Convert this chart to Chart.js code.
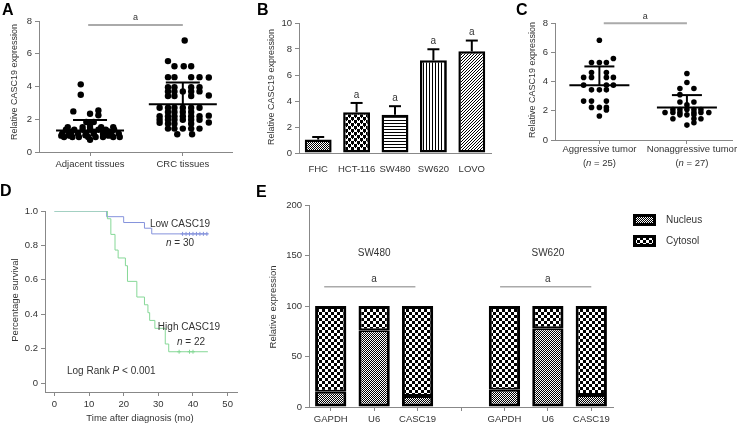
<!DOCTYPE html>
<html>
<head>
<meta charset="utf-8">
<script src="https://cdn.jsdelivr.net/npm/chart.js@4.4.0/dist/chart.umd.min.js"></script>
<style>
  body { margin: 0; background: #fff; }
  #fig { position: relative; width: 743px; height: 429px; overflow: hidden; }
  #fig canvas { position: absolute; }
  .lbl { position: absolute; font: bold 16px "Liberation Sans", Arial, sans-serif; color: #000; }
</style>
</head>
<body>
<div id="fig">
  <canvas id="cA" width="240" height="180" style="left:0;top:0"></canvas>
  <canvas id="cB" width="253" height="180" style="left:240px;top:0"></canvas>
  <canvas id="cC" width="253" height="180" style="left:490px;top:0"></canvas>
  <canvas id="cD" width="245" height="234" style="left:0;top:195px"></canvas>
  <canvas id="cE" width="493" height="234" style="left:250px;top:195px"></canvas>
  <div class="lbl" style="left:2px;top:1px">A</div>
  <div class="lbl" style="left:257px;top:1px">B</div>
  <div class="lbl" style="left:516px;top:1px">C</div>
  <div class="lbl" style="left:0px;top:182px">D</div>
  <div class="lbl" style="left:256px;top:183px">E</div>
</div>
<script>
// ---------- data ----------
// A: scatter, [x (group 1 or 2 with jitter), relative expression]
const groupsA = ['Adjacent tissues', 'CRC tissues'];
const adjacentPts = [
  [0.90,4.13],[0.90,3.50],[0.82,2.48],[1.00,2.34],[1.09,2.54],[1.09,2.24],[0.96,1.83],[1.04,1.83],[1.00,1.70],
  [0.76,1.52],[0.92,1.52],[1.00,1.52],[1.12,1.52],[1.25,1.52],
  [0.74,1.36],[0.83,1.36],[0.92,1.36],[1.00,1.36],[1.09,1.36],[1.17,1.36],[1.26,1.36],
  [0.80,1.24],[1.04,1.24],[1.20,1.25],
  [0.70,1.12],[0.77,1.12],[0.87,1.12],[0.96,1.12],[1.04,1.12],[1.14,1.12],[1.23,1.12],[1.31,1.12],
  [0.69,1.00],[0.78,1.00],[0.95,1.02],[1.20,1.00],
  [0.72,0.92],[0.81,0.92],[0.88,0.92],[0.98,0.92],[1.06,0.92],[1.14,0.92],[1.25,0.92],[1.32,0.92],
  [1.00,0.75]
];
const crcPts = [
  [2.02,6.81],[1.84,5.55],[1.91,5.24],[2.01,5.24],[2.09,5.24],
  [1.84,4.57],[1.91,4.57],[2.09,4.57],[2.18,4.57],[2.28,4.55],
  [1.84,3.96],[1.91,3.96],[2.09,3.96],[2.18,3.96],
  [1.84,3.70],[1.91,3.70],[2.00,3.70],[2.09,3.70],[2.18,3.70],
  [1.84,3.42],[1.91,3.42],[2.09,3.42],[2.28,3.45],
  [1.75,2.70],[1.84,2.70],[1.91,2.70],[2.00,2.70],[2.09,2.70],[2.18,2.70],
  [1.84,2.44],[1.91,2.44],[2.00,2.44],[2.09,2.44],
  [1.75,2.18],[1.84,2.18],[1.91,2.18],[2.00,2.18],[2.09,2.18],[2.18,2.18],[2.28,2.22],
  [1.75,1.97],[1.84,1.97],[1.91,1.97],[2.00,1.97],[2.09,1.97],[2.18,1.97],
  [1.75,1.78],[1.84,1.73],[1.91,1.73],[2.09,1.73],[2.28,1.80],
  [1.84,1.43],[1.91,1.43],[2.00,1.43],[2.09,1.43],[2.18,1.43],
  [1.94,1.08],[2.10,1.08]
];
const meanA = [1.32, 2.92];
const sdTopA = [1.95, 4.25];

// B: bars
const cellLines = ['FHC', 'HCT-116', 'SW480', 'SW620', 'LOVO'];
const cellMeans = [1.03, 3.13, 2.95, 7.13, 7.82];
const cellSD = [0.20, 0.72, 0.65, 0.85, 0.83];
const cellSig = ['', 'a', 'a', 'a', 'a'];

// C: scatter
const groupsC = ['Aggressive tumor', 'Nonaggressive tumor'];
const groupsCn = ['25', '27'];
const aggressivePts = [
  [1.00,6.82],[1.16,5.57],[0.91,5.30],[1.00,5.30],[1.08,5.30],[0.91,4.62],[1.08,4.62],
  [0.82,4.28],[0.91,4.28],[1.08,4.28],[1.16,4.28],[0.82,3.75],[1.08,3.75],[1.16,3.75],
  [0.91,3.43],[1.00,3.43],[1.08,3.43],[0.82,2.66],[0.91,2.66],[1.08,2.66],
  [0.91,2.23],[1.00,2.23],[1.08,2.23],[1.08,2.05],[1.00,1.64]
];
const nonAggressivePts = [
  [2.00,4.55],[2.00,3.93],[1.92,3.52],[2.08,3.52],[1.92,3.10],[1.92,2.60],[2.08,2.60],[2.00,2.40],
  [1.84,2.08],[1.92,2.08],[2.00,2.08],[2.08,2.08],[2.16,2.08],
  [1.75,1.88],[1.84,1.88],[1.92,1.88],[2.08,1.88],[2.16,1.88],[2.25,1.88],
  [1.92,1.72],[2.00,1.72],[2.08,1.72],
  [1.84,1.45],[2.08,1.45],[2.16,1.45],
  [2.08,1.18],[2.00,1.02]
];
const meanC = [3.75, 2.22];
const sdTopC = [5.03, 3.07];

// D: Kaplan-Meier
const lowTimes = [0, 15.1, 20, 26, 28.1, 44.3];
const lowSurv = [1, 0.967, 0.933, 0.900, 0.867, 0.867];
const lowCensor = [37, 38, 39, 40, 41, 42, 43, 44];
const highTimes = [0, 15.3, 16.3, 17.5, 18.4, 20.5, 21.1, 23.8, 26, 27, 27.5, 29, 32, 33, 44.3];
const highSurv = [1, 0.955, 0.864, 0.773, 0.727, 0.682, 0.591, 0.500, 0.455, 0.409, 0.364, 0.318, 0.227, 0.182, 0.182];
const highCensor = [36, 39, 40];

// E: stacked bars
const genes = ['GAPDH', 'U6', 'CASC19', '', 'GAPDH', 'U6', 'CASC19'];
const nucleus = [15, 76, 11, null, 17, 78, 12];
const cytosol = [85, 24, 89, null, 83, 22, 88];
const cellGroupsE = ['SW480', 'SW620'];

// ---------- helpers ----------
const FONT = '"Liberation Sans", Arial, sans-serif';
const TXT = '#333';
const AX = '#888';
const TICK = { family: FONT, size: 9.5 };
const common = {
  responsive: false, animation: false, devicePixelRatio: 1,
  plugins: { legend: { display: false }, tooltip: { enabled: false } },
};

function axis(min, max, ticks, fit, cb) {
  return {
    type: 'linear', min, max,
    afterBuildTicks: s => { s.ticks = ticks.map(v => ({ value: v })); },
    afterFit: fit,
    ticks: { font: TICK, color: TXT, padding: 3, maxRotation: 0, minRotation: 0, callback: cb || (v => v) },
    grid: { drawOnChartArea: false, tickLength: 4, color: AX },
    border: { color: AX },
  };
}

function txt(ctx, s, x, y, opt = {}) {
  ctx.save();
  ctx.font = (opt.style || '') + ' ' + (opt.size || 10) + 'px ' + FONT;
  ctx.fillStyle = opt.color || TXT;
  ctx.textAlign = opt.align || 'center';
  ctx.textBaseline = 'middle';
  if (opt.rotate) { ctx.translate(x, y); ctx.rotate(-Math.PI / 2); ctx.fillText(s, 0, 0); }
  else ctx.fillText(s, x, y);
  ctx.restore();
}

// parts: [[text, italic], ...]
function rich(ctx, parts, x, y, size, align) {
  ctx.save();
  ctx.textBaseline = 'middle';
  ctx.textAlign = 'left';
  ctx.fillStyle = TXT;
  const fonts = parts.map(p => (p[1] ? 'italic ' : '') + size + 'px ' + FONT);
  let w = 0;
  parts.forEach((p, i) => { ctx.font = fonts[i]; w += ctx.measureText(p[0]).width; });
  let cx = align === 'left' ? x : x - w / 2;
  parts.forEach((p, i) => { ctx.font = fonts[i]; ctx.fillText(p[0], cx, y); cx += ctx.measureText(p[0]).width; });
  ctx.restore();
}

function seg(ctx, x1, y1, x2, y2, color, w) {
  ctx.save();
  ctx.strokeStyle = color; ctx.lineWidth = w;
  ctx.beginPath(); ctx.moveTo(x1, y1); ctx.lineTo(x2, y2); ctx.stroke();
  ctx.restore();
}

function pattern(size, draw, bg) {
  const c = document.createElement('canvas');
  c.width = c.height = size;
  const g = c.getContext('2d');
  g.fillStyle = bg || '#fff'; g.fillRect(0, 0, size, size);
  g.fillStyle = '#000';
  draw(g);
  return g.createPattern(c, 'repeat');
}
const fineCheck = pattern(2, g => { g.fillRect(0, 0, 1, 1); g.fillRect(1, 1, 1, 1); });
const bigCheck = pattern(6, g => { g.fillRect(0, 0, 3, 3); g.fillRect(3, 3, 3, 3); });
const dotCheck = pattern(6, g => { g.fillRect(0, 0, 3, 3); g.fillRect(3, 3, 3, 3); g.fillRect(1, 3, 1, 1); g.fillRect(4, 0, 1, 1); });
const hLines = pattern(3, g => { g.fillRect(0, 0, 3, 1); });
const vLines = pattern(3, g => { g.fillRect(0, 0, 1, 3); });
const diag = pattern(3, g => { g.fillRect(0, 2, 1, 1); g.fillRect(1, 1, 1, 1); g.fillRect(2, 0, 1, 1); });

function meanSd(chart, means, tops, halfMean, halfCap) {
  const ctx = chart.ctx, sx = chart.scales.x, sy = chart.scales.y;
  means.forEach((m, i) => {
    const x = sx.getPixelForValue(i + 1);
    const ym = sy.getPixelForValue(m), yt = sy.getPixelForValue(tops[i]);
    seg(ctx, x - halfMean, ym, x + halfMean, ym, '#000', 2);
    seg(ctx, x, ym, x, yt, '#000', 2);
    seg(ctx, x - halfCap, yt, x + halfCap, yt, '#000', 2);
  });
}

// ---------- A ----------
new Chart(document.getElementById('cA'), {
  type: 'scatter',
  data: { datasets: [adjacentPts, crcPts].map(pts => ({
    data: pts.map(p => ({ x: p[0], y: p[1] })),
    pointBackgroundColor: '#000', pointBorderWidth: 0, pointRadius: 3.2,
  })) },
  options: {
    ...common,
    layout: { padding: { left: 0, right: 8, top: 21, bottom: 0 } },
    scales: {
      x: axis(0.45, 2.53, [1, 2], s => { s.height = 28; }, (v, i) => groupsA[i]),
      y: axis(0, 8, [0, 2, 4, 6, 8], s => { s.width = 39; }),
    },
  },
  plugins: [{ id: 'annA', afterDatasetsDraw(chart) {
    const ctx = chart.ctx, sx = chart.scales.x, sy = chart.scales.y;
    meanSd(chart, meanA, sdTopA, 34, 17);
    const y = sy.getPixelForValue(7.75);
    seg(ctx, sx.getPixelForValue(0.98), y, sx.getPixelForValue(2.0), y, '#aaa', 2);
    txt(ctx, 'a', (sx.getPixelForValue(0.98) + sx.getPixelForValue(2.0)) / 2, y - 8, { size: 9 });
    txt(ctx, 'Relative CASC19 expression', 15, 82, { rotate: true, size: 9 });
  } }],
});

// ---------- B ----------
new Chart(document.getElementById('cB'), {
  type: 'bar',
  data: { labels: cellLines, datasets: [{
    data: cellMeans,
    backgroundColor: [fineCheck, dotCheck, hLines, vLines, diag],
    borderColor: '#000', borderWidth: 2.5, borderSkipped: false,
    barPercentage: 0.7, categoryPercentage: 1,
  }] },
  options: {
    ...common,
    layout: { padding: { left: 0, right: 2, top: 23, bottom: 0 } },
    scales: {
      x: {
        afterFit: s => { s.height = 27; },
        ticks: { font: TICK, color: TXT, padding: 3, maxRotation: 0, minRotation: 0, autoSkip: false },
        grid: { display: false }, border: { color: AX },
      },
      y: axis(0, 10, [0, 2, 4, 6, 8, 10], s => { s.width = 59; }),
    },
  },
  plugins: [{ id: 'annB', afterDatasetsDraw(chart) {
    const ctx = chart.ctx, sy = chart.scales.y;
    chart.getDatasetMeta(0).data.forEach((bar, i) => {
      const yt = sy.getPixelForValue(cellMeans[i] + cellSD[i]);
      seg(ctx, bar.x, bar.y, bar.x, yt, '#000', 2);
      seg(ctx, bar.x - 6, yt, bar.x + 6, yt, '#000', 2);
      if (cellSig[i]) txt(ctx, cellSig[i], bar.x, yt - 8, { size: 10 });
    });
    txt(ctx, 'Relative CASC19 expression', 32, 87, { rotate: true, size: 9 });
  } }],
});

// ---------- C ----------
new Chart(document.getElementById('cC'), {
  type: 'scatter',
  data: { datasets: [aggressivePts, nonAggressivePts].map(pts => ({
    data: pts.map(p => ({ x: p[0], y: p[1] })),
    pointBackgroundColor: '#000', pointBorderWidth: 0, pointRadius: 2.8,
  })) },
  options: {
    ...common,
    layout: { padding: { left: 0, right: 11, top: 23, bottom: 0 } },
    scales: {
      x: axis(0.493, 2.515, [1, 2], s => { s.height = 40; }, () => ''),
      y: axis(0, 8, [0, 2, 4, 6, 8], s => { s.width = 65; }),
    },
  },
  plugins: [{ id: 'annC', afterDatasetsDraw(chart) {
    const ctx = chart.ctx, sx = chart.scales.x, sy = chart.scales.y;
    meanSd(chart, meanC, sdTopC, 30, 15);
    const y = sy.getPixelForValue(7.98);
    const x1 = sx.getPixelForValue(1.05), x2 = sx.getPixelForValue(2.0);
    seg(ctx, x1, y, x2, y, '#aaa', 2);
    txt(ctx, 'a', (x1 + x2) / 2, y - 7, { size: 9 });
    groupsC.forEach((g, i) => {
      const x = sx.getPixelForValue(i + 1) + i * 5;
      txt(ctx, g, x, 149, { size: 9.5 });
      rich(ctx, [['(', false], ['n', true], [' = ' + groupsCn[i] + ')', false]], x, 163, 9.5);
    });
    txt(ctx, 'Relative CASC19 expression', 43, 80, { rotate: true, size: 9 });
  } }],
});

// ---------- D ----------
const blue = '#8593dc', green = '#86d897';
new Chart(document.getElementById('cD'), {
  type: 'line',
  data: { datasets: [
    { data: highTimes.map((t, i) => ({ x: t, y: highSurv[i] })), borderColor: green, borderWidth: 1, stepped: true, pointRadius: 0 },
    { data: lowTimes.map((t, i) => ({ x: t, y: lowSurv[i] })), borderColor: blue, borderWidth: 1, stepped: true, pointRadius: 0 },
    { data: highCensor.map(t => ({ x: t, y: 0.182 })), showLine: false, pointStyle: 'cross', pointRadius: 2, pointBorderColor: green, pointBorderWidth: 1 },
    { data: lowCensor.map(t => ({ x: t, y: 0.867 })), showLine: false, pointStyle: 'cross', pointRadius: 2, pointBorderColor: blue, pointBorderWidth: 1 },
  ] },
  options: {
    ...common,
    layout: { padding: { left: 0, right: 8, top: 16, bottom: 0 } },
    scales: {
      x: axis(-2.7, 52.7, [0, 10, 20, 30, 40, 50], s => { s.height = 37; }),
      y: axis(-0.052, 1.0, [0, 0.2, 0.4, 0.6, 0.8, 1.0], s => { s.width = 45; }, v => v === 0 ? '0' : v.toFixed(1)),
    },
  },
  plugins: [{ id: 'annD', afterDatasetsDraw(chart) {
    const ctx = chart.ctx;
    txt(ctx, 'Percentage survival', 15, 105, { rotate: true, size: 9.5 });
    txt(ctx, 'Time after diagnosis (mo)', 140, 223, { size: 9.5 });
    txt(ctx, 'Low CASC19', 180, 29, { size: 10 });
    rich(ctx, [['n', true], [' = 30', false]], 180, 48, 10);
    txt(ctx, 'High CASC19', 189, 132, { size: 10 });
    rich(ctx, [['n', true], [' = 22', false]], 191, 147, 10);
    rich(ctx, [['Log Rank ', false], ['P', true], [' < 0.001', false]], 67, 176, 10, 'left');
  } }],
});

// ---------- E ----------
new Chart(document.getElementById('cE'), {
  type: 'bar',
  data: { labels: genes, datasets: [
    { label: 'Nucleus', data: nucleus, backgroundColor: fineCheck, borderColor: '#000',
      borderWidth: { left: 3, right: 3, bottom: 3, top: 2 }, borderSkipped: false,
      barPercentage: 0.72, categoryPercentage: 1 },
    { label: 'Cytosol', data: cytosol, backgroundColor: bigCheck, borderColor: '#000',
      borderWidth: { left: 3, right: 3, bottom: 2, top: 3 }, borderSkipped: false,
      barPercentage: 0.72, categoryPercentage: 1 },
  ] },
  options: {
    ...common,
    layout: { padding: { left: 0, right: 130, top: 10, bottom: 0 } },
    scales: {
      x: {
        stacked: true,
        afterFit: s => { s.height = 22; },
        ticks: { font: TICK, color: TXT, padding: 3, maxRotation: 0, minRotation: 0, autoSkip: false },
        grid: { drawOnChartArea: false, offset: false, tickLength: 4, color: AX },
        border: { color: AX },
      },
      y: Object.assign(axis(0, 200, [0, 50, 100, 150, 200], s => { s.width = 59; }), { stacked: true }),
    },
  },
  plugins: [{ id: 'annE', afterDatasetsDraw(chart) {
    const ctx = chart.ctx, sx = chart.scales.x, sy = chart.scales.y;
    [[-0.15, 1.95], [3.9, 6.0]].forEach((r, i) => {
      const x1 = sx.getPixelForValue(r[0]), x2 = sx.getPixelForValue(r[1]);
      const cx = sx.getPixelForValue(i * 4 + 1);
      const y = sy.getPixelForValue(119);
      seg(ctx, x1, y, x2, y, '#aaa', 1.5);
      txt(ctx, 'a', cx, y - 8, { size: 10 });
      txt(ctx, cellGroupsE[i], cx, sy.getPixelForValue(152), { size: 10 });
    });
    [['Nucleus', fineCheck, 25], ['Cytosol', bigCheck, 46]].forEach(([name, pat, y]) => {
      ctx.fillStyle = '#000'; ctx.fillRect(383, y - 6, 23, 12);
      ctx.fillStyle = pat; ctx.fillRect(386, y - 3, 17, 6);
      txt(ctx, name, 416, y, { size: 10, align: 'left' });
    });
    txt(ctx, 'Relative expression', 23, 112, { rotate: true, size: 9.5 });
  } }],
});
</script>
</body>
</html>
